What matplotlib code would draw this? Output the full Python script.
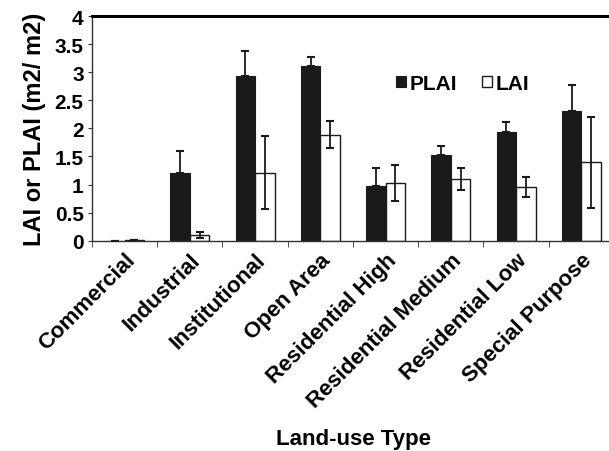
import matplotlib
matplotlib.use("Agg")
import matplotlib.pyplot as plt
import numpy as np

plt.rcParams["font.family"] = ["Liberation Sans", "DejaVu Sans"]
plt.rcParams["font.weight"] = "bold"

# values
land_use = ["Commercial", "Industrial", "Institutional", "Open Area",
            "Residential High", "Residential Medium", "Residential Low",
            "Special Purpose"]
plai = [0.0, 1.2, 2.93, 3.11, 0.98, 1.52, 1.93, 2.31]
plai_err = [0.0, 0.40, 0.45, 0.16, 0.32, 0.16, 0.19, 0.46]
lai = [0.01, 0.1, 1.21, 1.89, 1.03, 1.10, 0.96, 1.40]
lai_err = [0.0, 0.06, 0.65, 0.24, 0.32, 0.20, 0.18, 0.81]

fig = plt.figure(figsize=(6.09, 4.52), dpi=100)
ax = fig.add_axes([92 / 609, 1 - 241.7 / 452, 522 / 609, 224.7 / 452])

x = np.arange(len(land_use))
w = 0.3
ax.bar(x - w / 2, plai, w, color="#1a1a1a", edgecolor="#1a1a1a",
       linewidth=0.8, label="PLAI", zorder=2)
ax.bar(x + w / 2, lai, w, color="white", edgecolor="#1a1a1a",
       linewidth=1.0, label="LAI", zorder=2)
ax.errorbar(x - w / 2, plai, yerr=[np.zeros(len(plai)), plai_err], fmt="none",
            ecolor="#1a1a1a", elinewidth=1.3, capsize=2.7, capthick=1.5, zorder=3)
ax.errorbar(x + w / 2, lai, yerr=lai_err, fmt="none",
            ecolor="#1a1a1a", elinewidth=1.3, capsize=2.7, capthick=1.5, zorder=3)

ax.set_xlim(-0.5, len(land_use) - 0.5)
ax.set_ylim(0, 4)
ax.set_yticks([0, 0.5, 1, 1.5, 2, 2.5, 3, 3.5, 4])
ax.set_yticklabels(["0", "0.5", "1", "1.5", "2", "2.5", "3", "3.5", "4"])
ax.set_xticks(x)
ax.set_xticklabels(land_use, rotation=45, ha="right", rotation_mode="anchor",
                   fontsize=16, fontweight="bold")
ax.set_xticks(np.arange(len(land_use) + 1) - 0.5, minor=True)
ax.tick_params(axis="x", which="major", length=0, pad=6)
ax.tick_params(axis="x", which="minor", length=4, direction="out", color="#333333")
ax.tick_params(axis="y", length=3, labelsize=15, pad=3, color="#333333")
for lbl in ax.get_yticklabels():
    lbl.set_fontweight("bold")

ax.spines["right"].set_visible(False)
ax.spines["top"].set_linewidth(2.2)
ax.spines["left"].set_linewidth(1.0)
ax.spines["bottom"].set_linewidth(1.0)
ax.spines["left"].set_color("#333333")
ax.spines["bottom"].set_color("#333333")

ax.set_ylabel("LAI or PLAI (m2/ m2)", fontsize=17, fontweight="bold", labelpad=6)
fig.text(353 / 609, 1 - 440 / 452, "Land-use Type", ha="center", va="center",
         fontsize=16, fontweight="bold")

ax.legend(loc="center", bbox_to_anchor=(0.71, 0.70), ncol=2, frameon=False,
          handlelength=0.5, handleheight=0.5, handletextpad=0.15,
          columnspacing=1.2, prop={"size": 15, "weight": "bold"})

fig.savefig("out.png", dpi=100)
